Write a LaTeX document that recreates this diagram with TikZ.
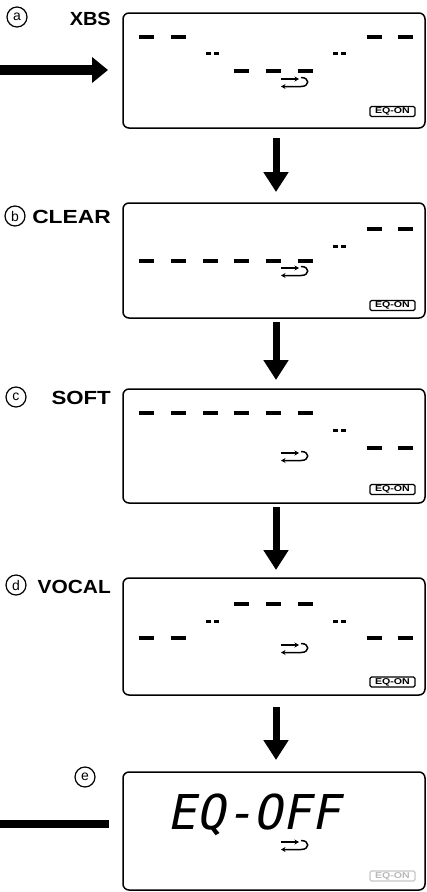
\documentclass[tikz,border=0pt]{standalone}
\usepackage{fontspec}
\setmainfont{Liberation Sans}
\newfontfamily\lcdfont{DejaVu Sans Mono}[FakeSlant=0.2]
\usetikzlibrary{arrows.meta}
\begin{document}
\begin{tikzpicture}[x=1pt,y=-1pt,
  panel/.style={draw, line width=1.5pt, rounded corners=6pt, minimum width=302pt, inner sep=0pt, outer sep=0pt},
  downarrow/.style={line width=7pt, -{Triangle[width=24pt,length=20pt]}},
  lcdseg/.style={line width=3.2pt},
  circlbl/.style={draw, circle, line width=1.2pt, minimum size=20pt, inner sep=0pt, font=\fontsize{14}{14}\selectfont},
  modelbl/.style={anchor=east, font=\fontsize{19}{19}\selectfont\bfseries, inner sep=0pt},
  eqon/.style={draw, line width=1.3pt, rounded corners=1.5pt, minimum width=45pt, minimum height=10pt, inner sep=0pt, font=\fontsize{8.5}{8.5}\selectfont\bfseries},
  loopsym/.pic={
    \draw[line width=1.5pt, -{Stealth[length=4.5pt,width=5pt]}] (0,0) -- (18,0);
    \draw[line width=1.5pt, -{Stealth[length=4.5pt,width=5pt]}] (20,-1.5) .. controls (29,-1.5) and (29,7.5) .. (20,7.5) -- (0,7.5);
  }
]
\useasboundingbox (0,0) rectangle (426,892);

% panels
\node[panel, minimum height=115pt] (pa) at (274,70.5) {};
\node[panel, minimum height=115pt] (pb) at (274,260.5) {};
\node[panel, minimum height=114pt] (pc) at (274,446) {};
\node[panel, minimum height=117pt] (pd) at (274,636.5) {};
\node[panel, minimum height=118pt] (pe) at (274,831) {};

% labels
\node[circlbl] (ca) at (17,17) {a};
\node[modelbl] (la) at (111,19) {\scalebox{1.05}[1]{XBS}};
\node[circlbl] (cb) at (15,216) {b};
\node[modelbl] (lb) at (111,217) {\scalebox{1.2}[1]{CLEAR}};
\node[circlbl] (cc) at (16,397) {c};
\node[modelbl] (lc) at (111,398) {\scalebox{1.17}[1]{SOFT}};
\node[circlbl] (cd) at (16,585) {d};
\node[modelbl] (ld) at (111,587) {\scalebox{1.1}[1]{VOCAL}};
\node[circlbl] (ce) at (85,777) {e};

% down arrows
\draw[downarrow] ([xshift=2pt,yshift=-10pt]pa.south) -- ([xshift=2pt,yshift=11pt]pb.north);
\draw[downarrow] ([xshift=2pt,yshift=-4pt]pb.south) -- ([xshift=2pt,yshift=9pt]pc.north);
\draw[downarrow] ([xshift=2pt,yshift=-4pt]pc.south) -- ([xshift=2pt,yshift=8pt]pd.north);
\draw[downarrow] ([xshift=2pt,yshift=-12pt]pd.south) -- ([xshift=2pt,yshift=12pt]pe.north);

% input arrow to (a) and bar at (e)
\coordinate (ain) at (0,70);
\coordinate (aend) at ([xshift=-15pt]pa.west);
\draw[line width=10pt, -{Triangle[width=25pt,length=16pt]}] (ain) -- (aend |- ain);
\coordinate (ein) at (0,824);
\coordinate (eend) at ([xshift=-14pt]pe.west);
\draw[line width=8pt] (ein) -- (eend |- ein);

% panel a : XBS
\begin{scope}[shift={(pa.north west)}]
  \foreach \cx in {23,55,251,282} \draw[lcdseg] (\cx-7.5,24) -- (\cx+7.5,24);
  \foreach \cx in {90,217} {\fill (\cx-7,39) rectangle ++(5,3); \fill (\cx+1,39) rectangle ++(5,3);}
  \foreach \cx in {118,150,182} \draw[lcdseg] (\cx-7.5,58) -- (\cx+7.5,58);
  \pic at (158,66) {loopsym};
  \node[eqon] (qa) at (269.5,98.5) {\scalebox{1.25}[1]{EQ-ON}};
\end{scope}

% panel b : CLEAR
\begin{scope}[shift={(pb.north west)}]
  \foreach \cx in {251,282} \draw[lcdseg] (\cx-7.5,26) -- (\cx+7.5,26);
  \foreach \cx in {217} {\fill (\cx-7,41.5) rectangle ++(5,3); \fill (\cx+1,41.5) rectangle ++(5,3);}
  \foreach \cx in {23,55,87,118,150,182} \draw[lcdseg] (\cx-7.5,58) -- (\cx+7.5,58);
  \pic at (158,65) {loopsym};
  \node[eqon] (qb) at (269.5,102.5) {\scalebox{1.25}[1]{EQ-ON}};
\end{scope}

% panel c : SOFT
\begin{scope}[shift={(pc.north west)}]
  \foreach \cx in {23,55,87,118,150,182} \draw[lcdseg] (\cx-7.5,24) -- (\cx+7.5,24);
  \foreach \cx in {217} {\fill (\cx-7,39.5) rectangle ++(5,3); \fill (\cx+1,39.5) rectangle ++(5,3);}
  \foreach \cx in {251,282} \draw[lcdseg] (\cx-7.5,59) -- (\cx+7.5,59);
  \pic at (158,64) {loopsym};
  \node[eqon] (qc) at (269.5,100.5) {\scalebox{1.25}[1]{EQ-ON}};
\end{scope}

% panel d : VOCAL
\begin{scope}[shift={(pd.north west)}]
  \foreach \cx in {118,150,182} \draw[lcdseg] (\cx-7.5,26) -- (\cx+7.5,26);
  \foreach \cx in {90,217} {\fill (\cx-7,41.5) rectangle ++(5,3); \fill (\cx+1,41.5) rectangle ++(5,3);}
  \foreach \cx in {23,55,251,282} \draw[lcdseg] (\cx-7.5,60) -- (\cx+7.5,60);
  \pic at (158,67) {loopsym};
  \node[eqon] (qd) at (269.5,104) {\scalebox{1.25}[1]{EQ-ON}};
\end{scope}

% panel e : EQ-OFF
\begin{scope}[shift={(pe.north west)}]
  \node[font=\fontsize{48}{48}\lcdfont, inner sep=0pt] (eqoff) at (131,43) {EQ-OFF};
  \pic at (158,70) {loopsym};
  \node[eqon, draw=gray!45, text=gray!55] (qe) at (269.5,104) {\scalebox{1.25}[1]{EQ-ON}};
\end{scope}
\end{tikzpicture}
\end{document}
